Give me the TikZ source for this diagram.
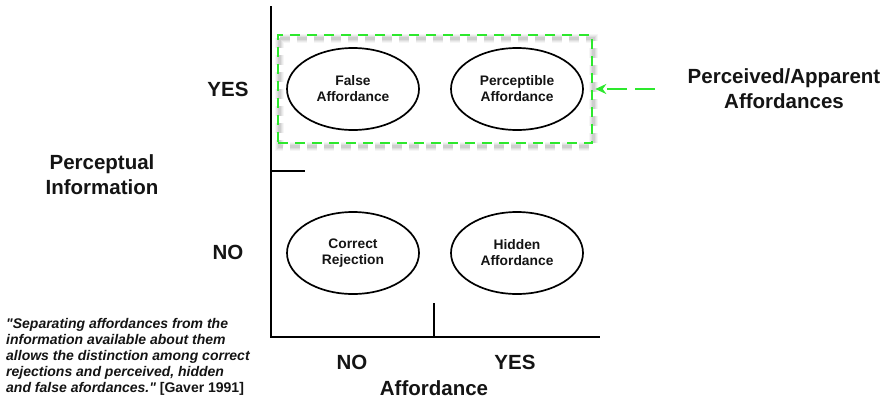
\documentclass[tikz,border=0pt]{standalone}
\usepackage{fontspec}
\setmainfont{Liberation Sans}[Ligatures=TeXOff]
\usetikzlibrary{shapes.geometric,arrows.meta}
\definecolor{brightgreen}{RGB}{45,232,45}
\definecolor{inkblack}{RGB}{20,20,20}
\begin{document}
\begin{tikzpicture}[x=1pt,y=-1pt,
  bigtext/.style={font=\fontsize{20.5}{25}\selectfont\bfseries, text=inkblack, align=center, inner sep=0pt},
  celltext/.style={font=\fontsize{13.8}{16}\selectfont\bfseries, text=inkblack, align=center, inner sep=0pt},
  cell/.style={ellipse, draw=black, line width=1.7pt, minimum width=132pt, minimum height=82pt, inner sep=0pt, celltext},
  axisline/.style={draw=black, line width=1.8pt},
  greendash/.style={draw=brightgreen, line width=2.6pt, dash pattern=on 10pt off 7pt},
]
\useasboundingbox (0,0) rectangle (890,402);
% axes
\coordinate (vtop) at (271,6);
\coordinate (origin) at (271,337);
\coordinate (hend) at (600,337);
\draw[axisline] (vtop) -- (origin) -- (hend);
\coordinate (ltick) at (271,171);
\coordinate (ltickend) at (305,171);
\draw[axisline] (ltick) -- (ltickend);
\coordinate (btick) at (434,337);
\coordinate (btickend) at (434,303);
\draw[axisline] (btick) -- (btickend);
% soft shadow of the green box
\foreach \w/\o in {9/0.035,7/0.045,5/0.055,3/0.07}{
  \draw[black, opacity=\o, line width=\w pt, dash pattern=on 10pt off 7pt] (279,38) rectangle (593,146);
}
% green dashed box
\node[greendash, minimum width=314pt, minimum height=108pt, inner sep=0pt] (box) at (435,89) {};
% ellipses
\node[cell] (false) at (353,89) {False\\Affordance};
\node[cell] (percept) at (517,89) {Perceptible\\Affordance};
\node[cell] (correct) at (353,253) {Correct\\Rejection};
\node[cell] (hidden) at (517,253) {Hidden\\Affordance};
% arrow
\coordinate (arrstart) at (655,89);
\draw[draw=brightgreen, line width=2pt, dash pattern=on 20pt off 8pt, -{Stealth[length=11pt,width=10pt]}] (arrstart) -- ([xshift=2pt]box.east);
% labels
\node[bigtext] (apparent) at (784,89) {Perceived/Apparent\\Affordances};
\node[bigtext] (yes) at (228,89) {YES};
\node[bigtext] (no) at (228,252) {NO};
\node[bigtext] (perceptual) at (102,175) {Perceptual\\Information};
\node[bigtext] (bno) at (352,362) {NO};
\node[bigtext] (byes) at (515,362) {YES};
\node[bigtext] (affordance) at (434,388) {Affordance};
\node[font=\fontsize{14}{16}\selectfont\bfseries, text=inkblack, align=left, inner sep=0pt, anchor=west] (quote) at (6,357)
  {\itshape "Separating affordances from the\\\itshape information available about them\\\itshape allows the distinction among correct\\\itshape rejections and perceived, hidden\\\itshape and false afordances." \upshape[Gaver 1991]};
\end{tikzpicture}
\end{document}
